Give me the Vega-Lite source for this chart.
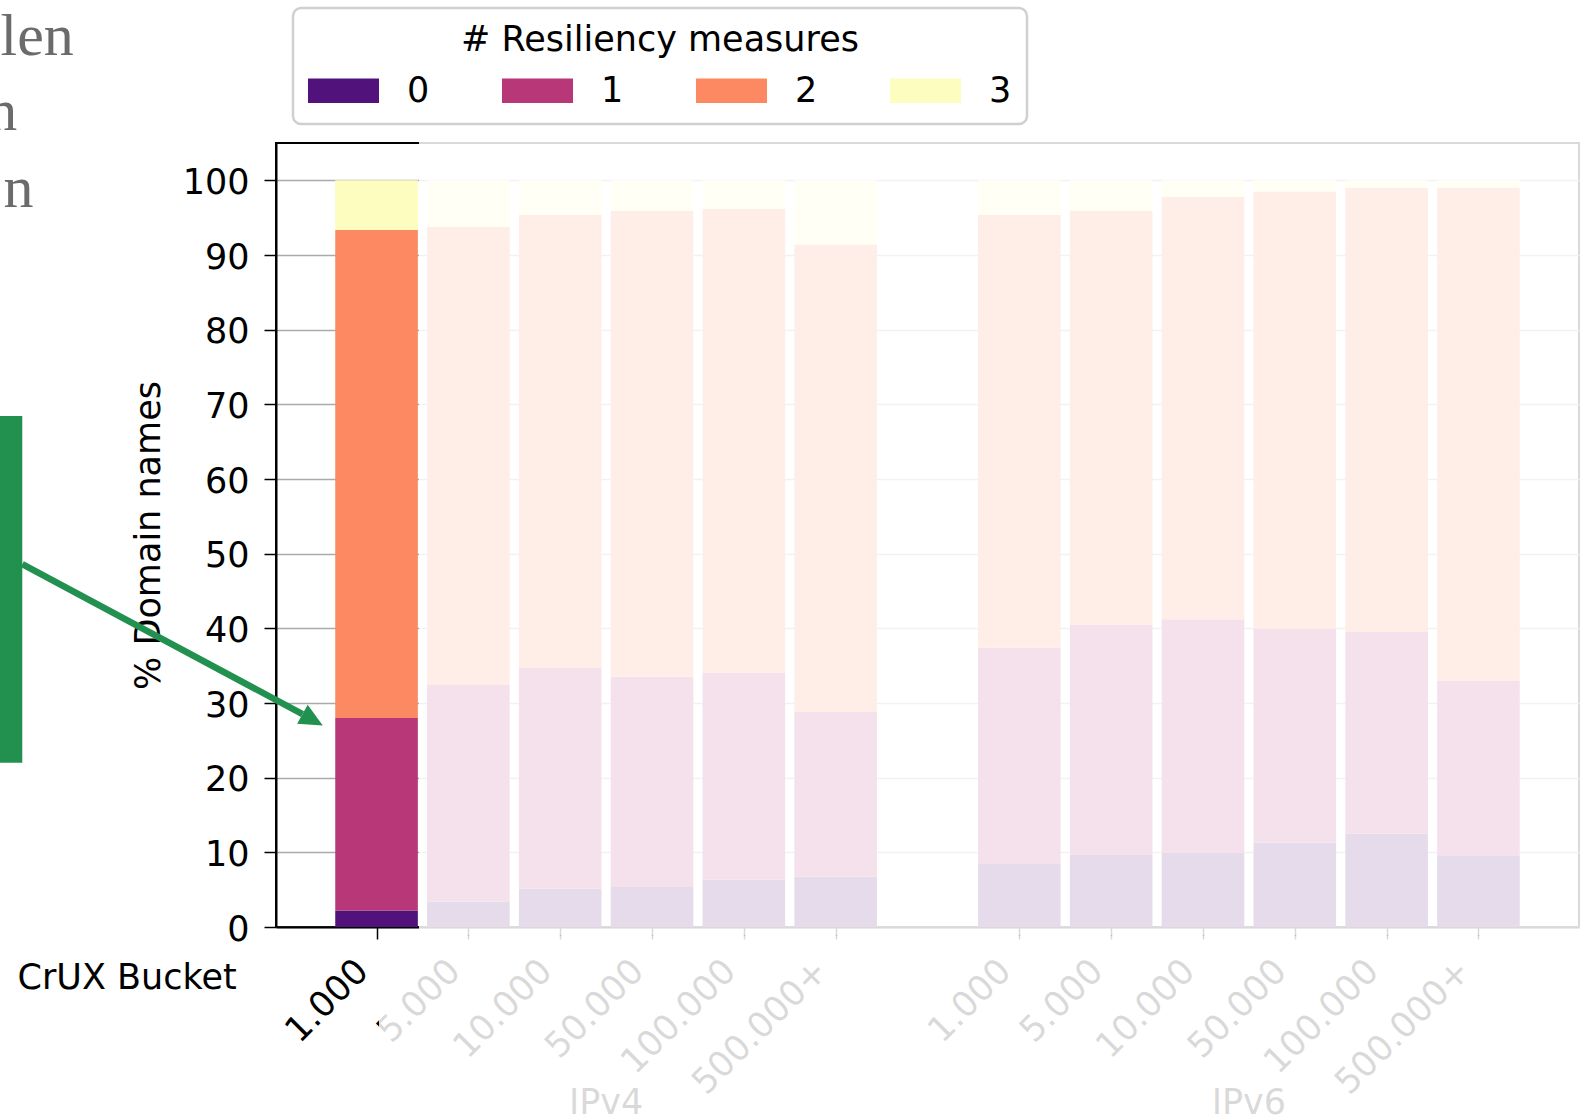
{
  "$schema": "https://vega.github.io/schema/vega-lite/v6.json",
  "width": 1303,
  "height": 784,
  "autosize": {"type": "none"},
  "padding": {"left": 276, "top": 143, "right": 6, "bottom": 190},
  "background": "white",
  "config": {
    "view": {"stroke": "black", "strokeWidth": 2},
    "font": "DejaVu Sans",
    "legend": {"strokeWidth": 2.5}
  },
  "datasets": {
    "shares": [
      {"ip": "IPv4", "bucket": "1.000", "slot": 0, "measures": 0, "pct": 2.2},
      {"ip": "IPv4", "bucket": "1.000", "slot": 0, "measures": 1, "pct": 25.8},
      {"ip": "IPv4", "bucket": "1.000", "slot": 0, "measures": 2, "pct": 65.35},
      {"ip": "IPv4", "bucket": "1.000", "slot": 0, "measures": 3, "pct": 6.65},
      {"ip": "IPv4", "bucket": "5.000", "slot": 1, "measures": 0, "pct": 3.43},
      {"ip": "IPv4", "bucket": "5.000", "slot": 1, "measures": 1, "pct": 28.97},
      {"ip": "IPv4", "bucket": "5.000", "slot": 1, "measures": 2, "pct": 61.4},
      {"ip": "IPv4", "bucket": "5.000", "slot": 1, "measures": 3, "pct": 6.2},
      {"ip": "IPv4", "bucket": "10.000", "slot": 2, "measures": 0, "pct": 5.13},
      {"ip": "IPv4", "bucket": "10.000", "slot": 2, "measures": 1, "pct": 29.57},
      {"ip": "IPv4", "bucket": "10.000", "slot": 2, "measures": 2, "pct": 60.65},
      {"ip": "IPv4", "bucket": "10.000", "slot": 2, "measures": 3, "pct": 4.65},
      {"ip": "IPv4", "bucket": "50.000", "slot": 3, "measures": 0, "pct": 5.35},
      {"ip": "IPv4", "bucket": "50.000", "slot": 3, "measures": 1, "pct": 28.15},
      {"ip": "IPv4", "bucket": "50.000", "slot": 3, "measures": 2, "pct": 62.4},
      {"ip": "IPv4", "bucket": "50.000", "slot": 3, "measures": 3, "pct": 4.1},
      {"ip": "IPv4", "bucket": "100.000", "slot": 4, "measures": 0, "pct": 6.33},
      {"ip": "IPv4", "bucket": "100.000", "slot": 4, "measures": 1, "pct": 27.77},
      {"ip": "IPv4", "bucket": "100.000", "slot": 4, "measures": 2, "pct": 62.1},
      {"ip": "IPv4", "bucket": "100.000", "slot": 4, "measures": 3, "pct": 3.8},
      {"ip": "IPv4", "bucket": "500.000+", "slot": 5, "measures": 0, "pct": 6.73},
      {"ip": "IPv4", "bucket": "500.000+", "slot": 5, "measures": 1, "pct": 22.07},
      {"ip": "IPv4", "bucket": "500.000+", "slot": 5, "measures": 2, "pct": 62.6},
      {"ip": "IPv4", "bucket": "500.000+", "slot": 5, "measures": 3, "pct": 8.6},
      {"ip": "IPv6", "bucket": "1.000", "slot": 7, "measures": 0, "pct": 8.43},
      {"ip": "IPv6", "bucket": "1.000", "slot": 7, "measures": 1, "pct": 28.97},
      {"ip": "IPv6", "bucket": "1.000", "slot": 7, "measures": 2, "pct": 57.95},
      {"ip": "IPv6", "bucket": "1.000", "slot": 7, "measures": 3, "pct": 4.65},
      {"ip": "IPv6", "bucket": "5.000", "slot": 8, "measures": 0, "pct": 9.64},
      {"ip": "IPv6", "bucket": "5.000", "slot": 8, "measures": 1, "pct": 30.86},
      {"ip": "IPv6", "bucket": "5.000", "slot": 8, "measures": 2, "pct": 55.4},
      {"ip": "IPv6", "bucket": "5.000", "slot": 8, "measures": 3, "pct": 4.1},
      {"ip": "IPv6", "bucket": "10.000", "slot": 9, "measures": 0, "pct": 9.95},
      {"ip": "IPv6", "bucket": "10.000", "slot": 9, "measures": 1, "pct": 31.25},
      {"ip": "IPv6", "bucket": "10.000", "slot": 9, "measures": 2, "pct": 56.6},
      {"ip": "IPv6", "bucket": "10.000", "slot": 9, "measures": 3, "pct": 2.2},
      {"ip": "IPv6", "bucket": "50.000", "slot": 10, "measures": 0, "pct": 11.3},
      {"ip": "IPv6", "bucket": "50.000", "slot": 10, "measures": 1, "pct": 28.6},
      {"ip": "IPv6", "bucket": "50.000", "slot": 10, "measures": 2, "pct": 58.6},
      {"ip": "IPv6", "bucket": "50.000", "slot": 10, "measures": 3, "pct": 1.5},
      {"ip": "IPv6", "bucket": "100.000", "slot": 11, "measures": 0, "pct": 12.5},
      {"ip": "IPv6", "bucket": "100.000", "slot": 11, "measures": 1, "pct": 27.0},
      {"ip": "IPv6", "bucket": "100.000", "slot": 11, "measures": 2, "pct": 59.5},
      {"ip": "IPv6", "bucket": "100.000", "slot": 11, "measures": 3, "pct": 1.0},
      {"ip": "IPv6", "bucket": "500.000+", "slot": 12, "measures": 0, "pct": 9.5},
      {"ip": "IPv6", "bucket": "500.000+", "slot": 12, "measures": 1, "pct": 23.5},
      {"ip": "IPv6", "bucket": "500.000+", "slot": 12, "measures": 2, "pct": 66.0},
      {"ip": "IPv6", "bucket": "500.000+", "slot": 12, "measures": 3, "pct": 1.0}
    ]
  },
  "layer": [
    {
      "data": {"name": "shares"},
      "mark": {"type": "bar", "orient": "vertical", "size": 82.6},
      "encoding": {
        "x": {
          "field": "slot",
          "type": "quantitative",
          "scale": {"domain": [-1.095, 13.095], "nice": false, "zero": false, "padding": 0},
          "axis": {
            "title": "CrUX Bucket",
            "titleX": -259,
            "titleY": 61,
            "titleAlign": "left",
            "titleBaseline": "alphabetic",
            "titleAngle": 0,
            "titleFontSize": 35,
            "titleFontWeight": "normal",
            "titleColor": "black",
            "titleLimit": 0,
            "values": [0, 1, 2, 3, 4, 5, 7, 8, 9, 10, 11, 12],
            "labelExpr": "['1.000','5.000','10.000','50.000','100.000','500.000+'][datum.value % 7]",
            "labelAngle": -45,
            "labelAlign": "right",
            "labelBaseline": "middle",
            "labelOffset": -14.5,
            "labelPadding": 26,
            "labelFontSize": 35,
            "labelColor": "black",
            "labelOverlap": false,
            "labelBound": false,
            "labelFlush": false,
            "labelLimit": 0,
            "tickSize": 12,
            "tickWidth": 1.5,
            "tickColor": "black",
            "domainColor": "black",
            "domainWidth": 2,
            "grid": false
          }
        },
        "y": {
          "field": "pct",
          "type": "quantitative",
          "stack": "zero",
          "scale": {"domain": [0, 105], "nice": false, "zero": false, "padding": 0},
          "axis": {
            "title": "% Domain names",
            "titleFontSize": 35,
            "titleFontWeight": "normal",
            "titleColor": "black",
            "titlePadding": 16,
            "titleLimit": 0,
            "values": [0, 10, 20, 30, 40, 50, 60, 70, 80, 90, 100],
            "labelFontSize": 35,
            "labelColor": "black",
            "labelPadding": 15,
            "labelOffset": 2,
            "labelBaseline": "middle",
            "labelOverlap": false,
            "labelBound": false,
            "labelFlush": false,
            "tickSize": 12,
            "tickWidth": 1.5,
            "tickColor": "black",
            "domainColor": "black",
            "domainWidth": 2,
            "grid": true,
            "gridColor": "#aaaaaa",
            "gridWidth": 1.6
          }
        },
        "color": {
          "field": "measures",
          "type": "nominal",
          "scale": {"domain": [0, 1, 2, 3], "range": ["#51127c", "#b73779", "#fc8961", "#fcfdbf"]},
          "legend": {
            "title": "# Resiliency measures",
            "orient": "none",
            "legendX": 17,
            "legendY": -135,
            "direction": "horizontal",
            "columns": 4,
            "titleFontSize": 35,
            "titleFontWeight": "normal",
            "titleColor": "black",
            "titleAnchor": "middle",
            "titleAlign": "center",
            "titleBaseline": "top",
            "titlePadding": 15,
            "titleLimit": 0,
            "labelFontSize": 35,
            "labelColor": "black",
            "labelOffset": 46,
            "labelLimit": 0,
            "symbolType": "M-2.9,-1L2.9,-1L2.9,1L-2.9,1Z",
            "symbolSize": 600,
            "symbolOffset": 18,
            "symbolStrokeWidth": 0,
            "symbolOpacity": 1,
            "columnPadding": 71,
            "rowPadding": 0,
            "padding": 15,
            "strokeColor": "#d0d0d0",
            "fillColor": "white",
            "cornerRadius": 8
          }
        },
        "order": {"field": "measures", "sort": "ascending"}
      }
    },
    {
      "data": {"name": "shares"},
      "mark": {"type": "text", "fontSize": 35, "font": "DejaVu Sans", "baseline": "alphabetic", "align": "center", "color": "black"},
      "encoding": {
        "x": {"aggregate": "mean", "field": "slot", "type": "quantitative"},
        "y": {"datum": -25.0, "type": "quantitative"},
        "text": {"field": "ip"}
      }
    },
    {
      "data": {"values": [{}]},
      "mark": {"type": "rect", "fill": "white", "opacity": 0.85},
      "encoding": {
        "x": {"datum": 0.4623, "type": "quantitative"},
        "x2": {"datum": 13.4},
        "y": {"datum": -1.1, "type": "quantitative"},
        "y2": {"datum": 105.7}
      }
    },
    {
      "data": {"values": [{}]},
      "mark": {"type": "rect", "fill": "white", "opacity": 0.85},
      "encoding": {
        "x": {"datum": 0.0267, "type": "quantitative"},
        "x2": {"datum": 13.4},
        "y": {"datum": -26.5, "type": "quantitative"},
        "y2": {"datum": -1.1}
      }
    },
    {
      "data": {"values": [{}]},
      "mark": {"type": "rect", "color": "#22914f", "opacity": 1},
      "encoding": {
        "x": {"datum": -4.2, "type": "quantitative"},
        "x2": {"datum": -3.8579},
        "y": {"datum": 22.0, "type": "quantitative"},
        "y2": {"datum": 68.43}
      }
    },
    {
      "data": {"values": [{}]},
      "mark": {"type": "rule", "color": "#22914f", "strokeWidth": 6.5},
      "encoding": {
        "x": {"datum": -3.8579, "type": "quantitative"},
        "x2": {"datum": -0.8064},
        "y": {"datum": 48.61, "type": "quantitative"},
        "y2": {"datum": 28.505}
      }
    },
    {
      "data": {"values": [{}]},
      "mark": {"type": "point", "shape": "M-1,-0.93L1,0L-1,0.93Z", "size": 543, "angle": 29, "filled": true, "color": "#22914f", "opacity": 1, "strokeWidth": 0},
      "encoding": {
        "x": {"datum": -0.6964, "type": "quantitative"},
        "y": {"datum": 27.735, "type": "quantitative"}
      }
    },
    {
      "data": {"values": [{}]},
      "mark": {"type": "text", "text": "len", "font": "Liberation Serif", "fontSize": 60, "color": "#6b6b6b", "align": "right", "baseline": "alphabetic"},
      "encoding": {
        "x": {"datum": -3.297, "type": "quantitative"},
        "y": {"datum": 116.78, "type": "quantitative"}
      }
    },
    {
      "data": {"values": [{}]},
      "mark": {"type": "text", "text": "n", "font": "Liberation Serif", "fontSize": 60, "color": "#6b6b6b", "align": "right", "baseline": "alphabetic"},
      "encoding": {
        "x": {"datum": -3.913, "type": "quantitative"},
        "y": {"datum": 106.74, "type": "quantitative"}
      }
    },
    {
      "data": {"values": [{}]},
      "mark": {"type": "text", "text": "n", "font": "Liberation Serif", "fontSize": 60, "color": "#6b6b6b", "align": "right", "baseline": "alphabetic"},
      "encoding": {
        "x": {"datum": -3.737, "type": "quantitative"},
        "y": {"datum": 96.46, "type": "quantitative"}
      }
    }
  ]
}
